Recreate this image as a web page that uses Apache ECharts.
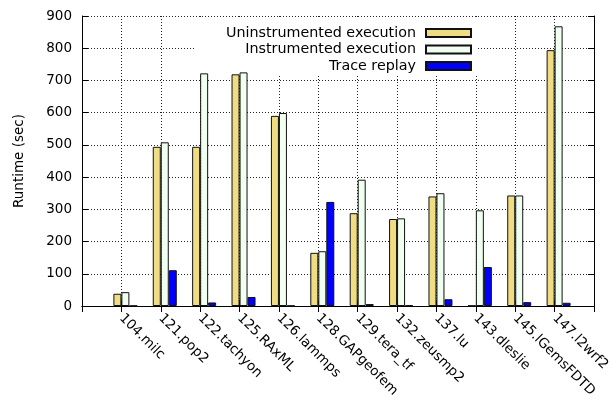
<!DOCTYPE html>
<html>
<head>
<meta charset="utf-8">
<script src="https://cdn.jsdelivr.net/npm/echarts@6/dist/echarts.min.js"></script>
<style>
  html, body { margin: 0; padding: 0; background: #fff; }
  #chart { width: 613px; height: 403px; }
</style>
</head>
<body>
<div id="chart"></div>
<script>
// Benchmarks (SPEC MPI) and runtimes in seconds
const benchmarks = ['104.milc', '121.pop2', '122.tachyon', '125.RAxML', '126.lammps', '128.GAPgeofem',
  '129.tera_tf', '132.zeusmp2', '137.lu', '143.dleslie', '145.lGemsFDTD', '147.l2wrf2'];
const uninstrumented = [38, 494, 494, 719, 590, 165, 288, 270, 340, 1, 343, 794];
const instrumented   = [43, 508, 722, 725, 599, 170, 392, 272, 350, 297, 343, 868];
const traceReplay    = [1, 111, 11, 28, 1, 323, 6, 2, 21, 121, 12, 10];
const yTicks = { min: 0, max: 900, step: 100 };

// one empty slot on each side of the benchmark list pads the x range
const xCats = [''].concat(benchmarks, ['']);
const pad = arr => ['-'].concat(arr, ['-']);

const font = 'DejaVu Sans';
const gridLine = { show: true, lineStyle: { color: '#222', width: 1, type: [1, 2] } };
const frameLine = { show: true, lineStyle: { color: '#000', width: 1 } };
const barBorder = { borderColor: '#111', borderWidth: 1 };

const chart = echarts.init(document.getElementById('chart'), null, { renderer: 'canvas' });
chart.setOption({
  animation: false,
  backgroundColor: '#fff',
  textStyle: { fontFamily: font },
  grid: { left: 82, right: 19, top: 16, bottom: 97 },
  legend: {
    data: ['Uninstrumented execution', 'Instrumented execution', 'Trace replay'],
    orient: 'vertical',
    align: 'right',
    right: 135,
    top: 17,
    z: 1,
    padding: [8, 6, 0, 30],
    itemGap: 0.5,
    itemWidth: 45,
    itemHeight: 8,
    icon: 'rect',
    backgroundColor: '#fff',
    selectedMode: false,
    textStyle: { fontFamily: font, fontSize: 14.3, color: '#000', lineHeight: 16, padding: [0, 5, 0, 0] }
  },
  xAxis: [{
    type: 'category',
    data: xCats,
    boundaryGap: false,
    axisLine: frameLine,
    axisTick: { show: true, inside: true, length: 6, interval: 0, lineStyle: { color: '#000' } },
    axisLabel: { interval: 0, rotate: -45, margin: 10, fontFamily: font, fontSize: 13.5, color: '#000' },
    splitLine: Object.assign({ interval: 0 }, gridLine)
  }, {
    type: 'category',
    data: xCats,
    boundaryGap: false,
    position: 'top',
    axisLine: frameLine,
    axisTick: { show: true, inside: true, length: 6, interval: 0, lineStyle: { color: '#000' } },
    axisLabel: { show: false },
    splitLine: { show: false }
  }],
  yAxis: [{
    type: 'value',
    min: yTicks.min, max: yTicks.max, interval: yTicks.step,
    name: 'Runtime (sec)',
    nameLocation: 'middle',
    nameGap: 56,
    nameTextStyle: { fontFamily: font, fontSize: 13.5, color: '#000' },
    axisLine: frameLine,
    axisTick: { show: true, inside: true, length: 6, lineStyle: { color: '#000' } },
    axisLabel: { margin: 10, fontFamily: font, fontSize: 13.5, color: '#000' },
    splitLine: gridLine
  }, {
    type: 'value',
    min: yTicks.min, max: yTicks.max, interval: yTicks.step,
    position: 'right',
    axisLine: frameLine,
    axisTick: { show: true, inside: true, length: 6, lineStyle: { color: '#000' } },
    axisLabel: { show: false },
    splitLine: { show: false }
  }],
  series: [
    // empty leading slot so each cluster sits just right of its tick
    { type: 'bar', name: 'spacer', data: pad(benchmarks.map(() => '-')), barWidth: 8, barGap: 0, silent: true },
    { type: 'bar', name: 'Uninstrumented execution', data: pad(uninstrumented), barWidth: 8, barGap: 0,
      itemStyle: Object.assign({ color: '#F0DC82' }, barBorder) },
    { type: 'bar', name: 'Instrumented execution', data: pad(instrumented), barWidth: 8, barGap: 0,
      itemStyle: Object.assign({ color: '#F0FFF0' }, barBorder) },
    { type: 'bar', name: 'Trace replay', data: pad(traceReplay), barWidth: 8, barGap: 0,
      itemStyle: Object.assign({ color: '#0000FF' }, barBorder) }
  ]
});
</script>
</body>
</html>
